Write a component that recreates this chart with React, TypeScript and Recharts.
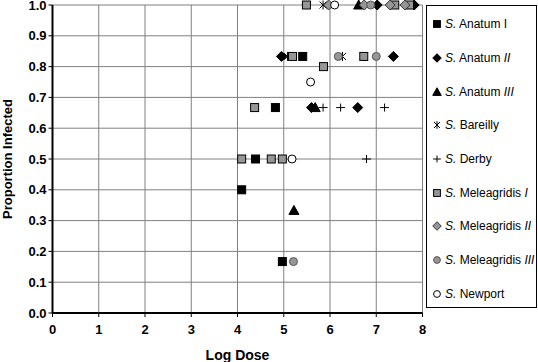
import React from 'react';
import { ScatterChart, Scatter, XAxis, YAxis, CartesianGrid, Legend, Label } from 'recharts';

const FONT = '"Liberation Sans", Arial, Helvetica, sans-serif';

const xTicks = [0, 1, 2, 3, 4, 5, 6, 7, 8];
const yTicks = [0, 0.1, 0.2, 0.3, 0.4, 0.5, 0.6, 0.7, 0.8, 0.9, 1.0];

const anatumI = [
  { x: 4.82, y: 0.667 },
  { x: 4.39, y: 0.5 },
  { x: 4.09, y: 0.4 },
  { x: 4.97, y: 0.167 },
  { x: 5.41, y: 0.833 },
];
const anatumII = [
  { x: 4.95, y: 0.833 },
  { x: 7.37, y: 0.833 },
  { x: 7.02, y: 1.0 },
  { x: 7.82, y: 1.0 },
  { x: 5.6, y: 0.667 },
  { x: 6.6, y: 0.667 },
];
const anatumIII = [
  { x: 6.62, y: 1.0 },
  { x: 5.22, y: 0.333 },
  { x: 5.68, y: 0.667 },
];
const bareilly = [
  { x: 5.85, y: 1.0 },
  { x: 6.27, y: 0.833 },
  { x: 5.08, y: 0.833 },
];
const derby = [
  { x: 5.85, y: 0.667 },
  { x: 6.23, y: 0.667 },
  { x: 7.18, y: 0.667 },
  { x: 6.79, y: 0.5 },
];
const meleagridisI = [
  { x: 5.49, y: 1.0 },
  { x: 7.4, y: 1.0 },
  { x: 7.72, y: 1.0 },
  { x: 5.19, y: 0.833 },
  { x: 6.73, y: 0.833 },
  { x: 5.86, y: 0.8 },
  { x: 4.37, y: 0.667 },
  { x: 4.09, y: 0.5 },
  { x: 4.73, y: 0.5 },
  { x: 4.97, y: 0.5 },
];
const meleagridisII = [
  { x: 5.97, y: 1.0 },
  { x: 6.74, y: 1.0 },
  { x: 7.3, y: 1.0 },
  { x: 7.62, y: 1.0 },
];
const meleagridisIII = [
  { x: 6.88, y: 1.0 },
  { x: 6.18, y: 0.833 },
  { x: 7.0, y: 0.833 },
  { x: 5.21, y: 0.167 },
];
const newport = [
  { x: 6.1, y: 1.0 },
  { x: 5.58, y: 0.75 },
  { x: 5.18, y: 0.5 },
];

type Kind = 'sqB' | 'diaB' | 'triB' | 'star' | 'plus' | 'sqG' | 'diaG' | 'cirG' | 'cirW';

const series: { name: string; suffix: string; italicSuffix: boolean; kind: Kind; data: { x: number; y: number }[] }[] = [
  { name: 'Anatum', suffix: 'I', italicSuffix: false, kind: 'sqB', data: anatumI },
  { name: 'Anatum', suffix: 'II', italicSuffix: true, kind: 'diaB', data: anatumII },
  { name: 'Anatum', suffix: 'III', italicSuffix: true, kind: 'triB', data: anatumIII },
  { name: 'Bareilly', suffix: '', italicSuffix: false, kind: 'star', data: bareilly },
  { name: 'Derby', suffix: '', italicSuffix: false, kind: 'plus', data: derby },
  { name: 'Meleagridis', suffix: 'I', italicSuffix: true, kind: 'sqG', data: meleagridisI },
  { name: 'Meleagridis', suffix: 'II', italicSuffix: true, kind: 'diaG', data: meleagridisII },
  { name: 'Meleagridis', suffix: 'III', italicSuffix: true, kind: 'cirG', data: meleagridisIII },
  { name: 'Newport', suffix: '', italicSuffix: false, kind: 'cirW', data: newport },
];

const GREY = '#969696';

function Marker({ kind, cx, cy, s = 1 }: { kind: Kind; cx: number; cy: number; s?: number }) {
  if (cx == null || cy == null || isNaN(cx) || isNaN(cy)) return null;
  switch (kind) {
    case 'sqB':
      return <rect x={cx - 4 * s} y={cy - 4 * s} width={8 * s} height={8 * s} fill="#000" stroke="#000" strokeWidth={1} />;
    case 'sqG':
      return <rect x={cx - 4 * s} y={cy - 4 * s} width={8 * s} height={8 * s} fill={GREY} stroke="#000" strokeWidth={1} />;
    case 'diaB':
      return (
        <polygon
          points={`${cx},${cy - 5 * s} ${cx + 5 * s},${cy} ${cx},${cy + 5 * s} ${cx - 5 * s},${cy}`}
          fill="#000"
          stroke="#000"
          strokeWidth={1}
        />
      );
    case 'diaG':
      return (
        <polygon
          points={`${cx},${cy - 5 * s} ${cx + 5 * s},${cy} ${cx},${cy + 5 * s} ${cx - 5 * s},${cy}`}
          fill={GREY}
          stroke="#333"
          strokeWidth={1}
        />
      );
    case 'triB':
      return (
        <polygon
          points={`${cx},${cy - 5 * s} ${cx + 5 * s},${cy + 4 * s} ${cx - 5 * s},${cy + 4 * s}`}
          fill="#000"
          stroke="#000"
          strokeWidth={1}
        />
      );
    case 'star':
      return (
        <g stroke="#000" strokeWidth={1}>
          <line x1={cx - 3.5 * s} y1={cy - 3.5 * s} x2={cx + 3.5 * s} y2={cy + 3.5 * s} />
          <line x1={cx - 3.5 * s} y1={cy + 3.5 * s} x2={cx + 3.5 * s} y2={cy - 3.5 * s} />
          <line x1={cx} y1={cy - 4.5 * s} x2={cx} y2={cy + 4.5 * s} />
        </g>
      );
    case 'plus':
      return (
        <g stroke="#000" strokeWidth={1}>
          <line x1={cx - 4.5 * s} y1={cy} x2={cx + 4.5 * s} y2={cy} />
          <line x1={cx} y1={cy - 4 * s} x2={cx} y2={cy + 4 * s} />
        </g>
      );
    case 'cirG':
      return <circle cx={cx} cy={cy} r={4 * s} fill={GREY} stroke="#555" strokeWidth={1} />;
    case 'cirW':
      return <circle cx={cx} cy={cy} r={4 * s} fill="#fff" stroke="#000" strokeWidth={1} />;
  }
  return null;
}

const renderLegend = () => (
  <div
    style={{
      position: 'relative',
      width: 111,
      height: 303,
      border: '1px solid #000',
      boxSizing: 'border-box',
      background: '#fff',
      fontFamily: FONT,
      fontSize: 12,
      color: '#000',
    }}
  >
    {series.map((s, i) => (
      <div
        key={i}
        style={{
          position: 'absolute',
          left: 0,
          top: 1.3 + i * 33.7,
          height: 33.7,
          width: 109,
          display: 'flex',
          alignItems: 'center',
          whiteSpace: 'nowrap',
        }}
      >
        <svg width={12} height={12} style={{ marginLeft: 4, flex: 'none' }}>
          <Marker kind={s.kind} cx={6} cy={6} s={0.85} />
        </svg>
        <span style={{ marginLeft: 2 }}>
          <i>S.</i> {s.name}
          {s.suffix ? ' ' : ''}
          {s.suffix ? s.italicSuffix ? <i>{s.suffix}</i> : s.suffix : null}
        </span>
      </div>
    ))}
  </div>
);

const renderXLabel = (props: any) => {
  const vb = props.viewBox || { x: 52.5, y: 313, width: 370, height: 49 };
  return (
    <text
      x={vb.x + vb.width / 2}
      y={vb.y + vb.height - 2.5}
      textAnchor="middle"
      fontFamily={FONT}
      fontSize={14}
      fontWeight="bold"
      fill="#000"
    >
      Log Dose
    </text>
  );
};

const renderYLabel = (props: any) => {
  const vb = props.viewBox || { x: 0, y: 5, width: 52.5, height: 308 };
  const x = vb.x + 12;
  const y = vb.y + vb.height / 2;
  return (
    <text
      x={x}
      y={y}
      transform={`rotate(-90, ${x}, ${y})`}
      textAnchor="middle"
      fontFamily={FONT}
      fontSize={13}
      fontWeight="bold"
      fill="#000"
    >
      Proportion Infected
    </text>
  );
};

const tickStyle = { fill: '#000', fontSize: 13, fontWeight: 'bold', fontFamily: FONT };

export default function App() {
  return (
    <div style={{ position: 'absolute', left: 0, top: 0, width: 538, height: 362, background: '#fff' }}>
      <ScatterChart width={538} height={362} margin={{ top: 5, right: 115.5, bottom: 0, left: 0 }}>
        <CartesianGrid stroke="#808080" strokeWidth={1} />
        <XAxis
          type="number"
          dataKey="x"
          domain={[0, 8]}
          ticks={xTicks}
          interval={0}
          height={49}
          tickSize={4}
          tickMargin={8}
          axisLine={{ stroke: '#000', strokeWidth: 2 }}
          tickLine={{ stroke: '#000', strokeWidth: 1 }}
          tick={tickStyle}
          allowDecimals={false}
        >
          <Label content={renderXLabel} />
        </XAxis>
        <YAxis
          type="number"
          dataKey="y"
          domain={[0, 1]}
          ticks={yTicks}
          interval={0}
          width={52.5}
          tickSize={4}
          tickMargin={2}
          axisLine={{ stroke: '#000', strokeWidth: 2 }}
          tickLine={{ stroke: '#000', strokeWidth: 1 }}
          tick={tickStyle}
          tickFormatter={(v: number) => v.toFixed(1)}
        >
          <Label content={renderYLabel} />
        </YAxis>
        <Legend
          layout="vertical"
          align="center"
          verticalAlign="middle"
          content={renderLegend}
          wrapperStyle={{ left: 426, top: 5, width: 111, height: 303 }}
        />
        {series.map((s, i) => (
          <Scatter
            key={i}
            name={`S. ${s.name} ${s.suffix}`}
            data={s.data}
            isAnimationActive={false}
            shape={(p: any) => <Marker kind={s.kind} cx={p.cx} cy={p.cy} />}
          />
        ))}
      </ScatterChart>
    </div>
  );
}
